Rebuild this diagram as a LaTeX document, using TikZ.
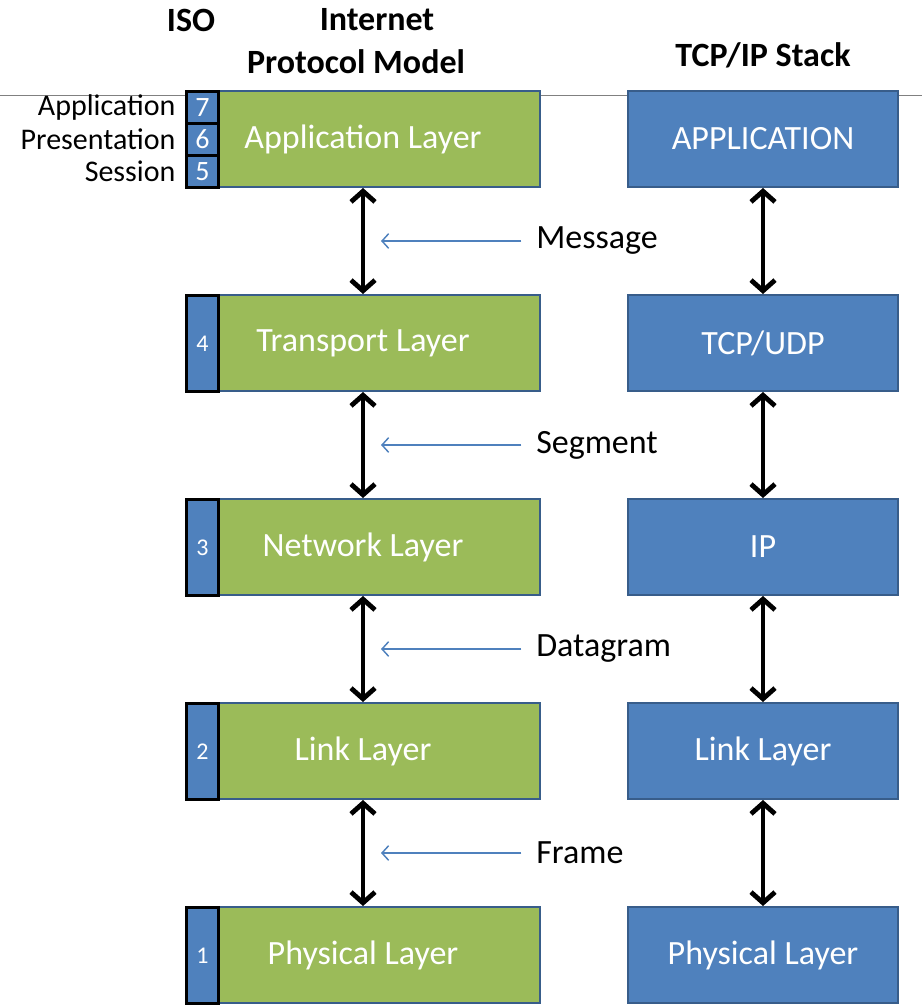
\documentclass[tikz,border=0pt]{standalone}
\usepackage{fontspec}
\setmainfont{Carlito}
\usepackage{tikz}
\usetikzlibrary{positioning, arrows.meta, calc}

\definecolor{layergreen}{HTML}{9BBB59}
\definecolor{layerblue}{HTML}{4F81BD}
\definecolor{layeredge}{HTML}{385D8A}

\begin{document}
\begin{tikzpicture}[
    x=0.75pt, y=-0.75pt, % one unit is one pixel of the sketch, y runs down
    node distance=79.5pt and 64.5pt, % gap between the rows and between the two columns
    % Styles for the layer boxes
    greenbox/.style={rectangle, draw=layeredge, line width=1.5pt, fill=layergreen, text=white,
        minimum width=265.5pt, minimum height=72pt, font=\fontsize{25.5}{30}\selectfont},
    bluebox/.style={rectangle, draw=layeredge, line width=1.5pt, fill=layerblue, text=white,
        minimum width=202.5pt, minimum height=72pt, font=\fontsize{25.5}{30}\selectfont},
    isocell/.style={ % ISO number strip on the left of a green box
        rectangle, draw=black, line width=2.25pt, fill=layerblue, text=white, inner sep=0pt,
        minimum width=24pt, minimum height=72pt, font=\fontsize{18}{20}\selectfont
    },
    topcell/.style={isocell, minimum height=24pt, font=\fontsize{21}{23}\selectfont},
    sidelabel/.style={inner sep=0pt, font=\fontsize{22.5}{26}\selectfont},
    heading/.style={font=\bfseries\fontsize{25.5}{30}\selectfont},
    pdu/.style={inner sep=0pt, anchor=west, font=\fontsize{25.5}{30}\selectfont},
    % Styles for the arrows
    line/.style={
        draw, line width=3.6pt,
        {Straight Barb[length=8pt,width=18pt]}-{Straight Barb[length=8pt,width=18pt]}
    },
    hint/.style={
        draw=layerblue, line width=1.1pt,
        -{Straight Barb[length=5pt,width=11pt]}
    }
]

% Add one row below the previous one: previous row, this row, ISO number, layer, stack, data unit
\newcommand{\addlayer}[6]{
    \node [greenbox, below=of #1] (#2) {#4};
    \node [bluebox, below=of #1stack] (#2stack) {#5};
    \node [isocell, anchor=north west] (#2iso) at (#2.north west) {#3};
    % Arrows between the rows
    \path [line] (#1.south) -- (#2.north);
    \path [line] (#1stack.south) -- (#2stack.north);
    % Name of the data unit with its small arrow
    \coordinate (#2tip) at ($(#1.south)!0.5!(#2.north)+(18,0)$);
    \node [pdu] (#2pdu) at ($(#1.south)!0.5!(#2.north)+(173,0)$) {#6};
    \path [hint] ([xshift=-11pt]#2pdu.west) -- (#2tip);
}

\useasboundingbox (0,0) rectangle (922,1005);

% Headings
\node [heading] (isohead) at (191,20) {ISO};
\node [heading] (ipmhead) at (377,20) {Internet};
\node [heading] (ipmsub) at (356,62) {Protocol Model};
\node [heading] (stackhead) at (763,55) {TCP/IP Stack};

% Thin rule behind the top row
\draw [gray, line width=0.75pt] (0,96) -- (922,96);

% Top row
\node [greenbox] (app) at (363,139) {Application Layer};
\node [bluebox, right=of app] (appstack) {APPLICATION};
\node [topcell, anchor=north west] (iso7) at (app.north west) {7};
\node [topcell, below=-2.25pt of iso7] (iso6) {6};
\node [topcell, below=-2.25pt of iso6] (iso5) {5};
\node [sidelabel, left=7pt of iso7] (osi7) {Application};
\node [sidelabel, left=7pt of iso6] (osi6) {Presentation};
\node [sidelabel, left=7pt of iso5] (osi5) {Session};

% Remaining rows
\addlayer{app}{trans}{4}{Transport Layer}{TCP/UDP}{Message}
\addlayer{trans}{net}{3}{Network Layer}{IP}{Segment}
\addlayer{net}{link}{2}{Link Layer}{Link Layer}{Datagram}
\addlayer{link}{phys}{1}{Physical Layer}{Physical Layer}{Frame}

\end{tikzpicture}
\end{document}
